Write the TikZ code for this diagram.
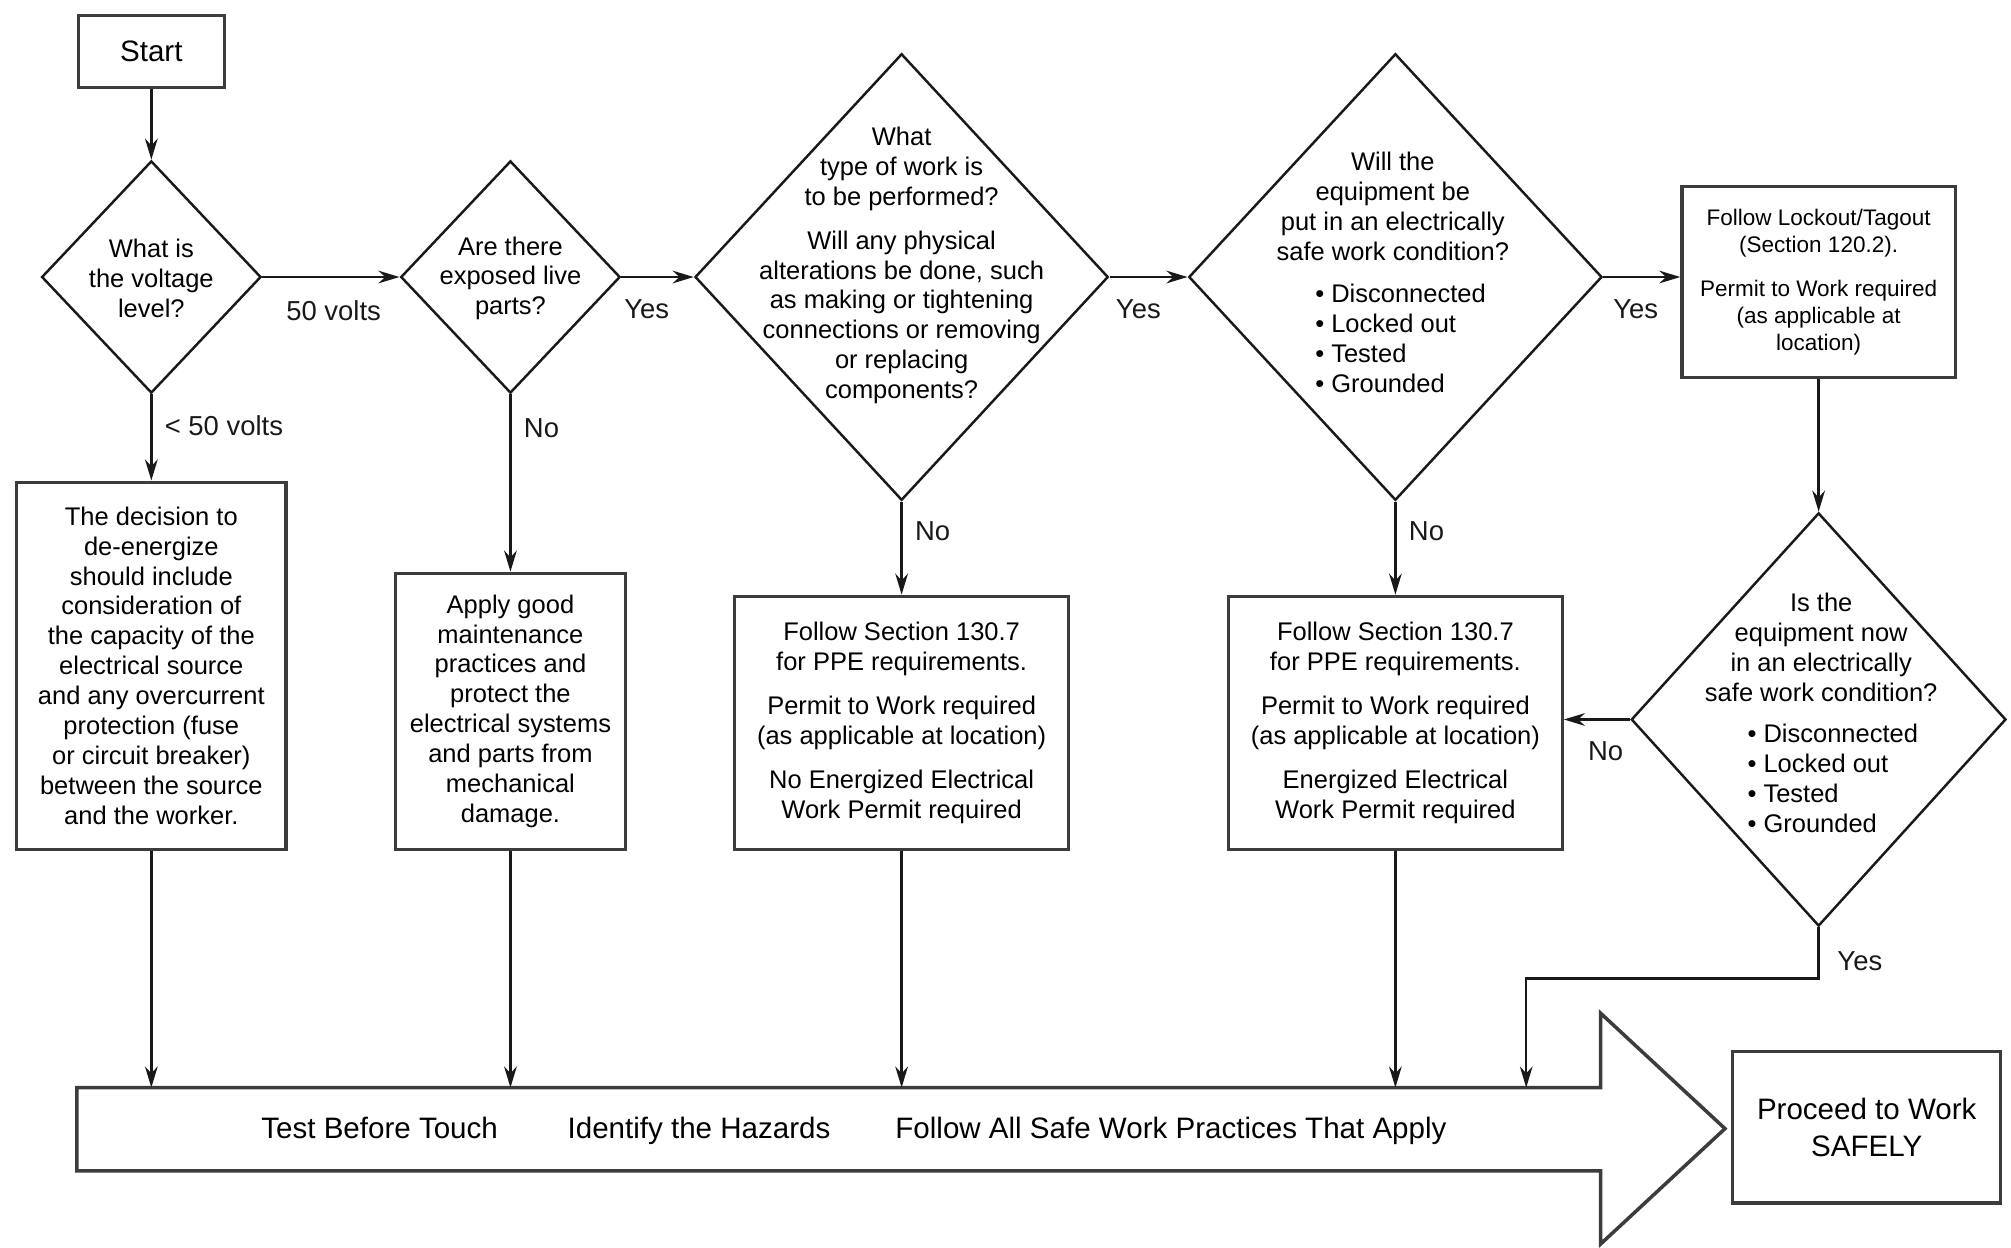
\documentclass[tikz,border=0pt]{standalone}
\usepackage{fontspec}
\setmainfont{Liberation Sans}
\usepackage{tikz}
\usetikzlibrary{shapes.geometric, arrows.meta, positioning, calc}
\definecolor{mydark}{RGB}{25,25,25}
\definecolor{myframe}{RGB}{60,60,60}
\newcommand{\boxfont}{\fontsize{7.25}{8.5}\selectfont}
\newcommand{\smallboxfont}{\fontsize{6.4}{7.6}\selectfont}
\newcommand{\lblfont}{\fontsize{7.8}{9}\selectfont}
\newcommand{\bigfont}{\fontsize{8.4}{10.6}\selectfont}
\tikzset{
  block/.style={rectangle, draw=myframe, fill=white, line width=0.9pt,
    align=center, font=\boxfont, inner sep=0pt},
  decision/.style={diamond, draw=mydark, line width=0.7pt, inner sep=0pt},
  qtext/.style={align=center, font=\boxfont, inner sep=0pt},
  bullets/.style={align=left, font=\boxfont, inner sep=0pt, anchor=west},
  lbl/.style={font=\lblfont, inner sep=1pt},
  arrtext/.style={font=\bigfont, anchor=base, inner sep=0pt},
  arrow/.style={-{Stealth[length=6pt, width=3.6pt]}, line width=0.7pt, color=mydark},
  bigarrow/.style={draw=myframe, fill=white, line width=1pt}
}
\begin{document}
\begin{tikzpicture}[x=0.012825cm, y=-0.012825cm]
  \useasboundingbox (0,0) rectangle (1568,973);
  % Start and first question
  \node[block, font=\bigfont, minimum width=1.462cm, minimum height=0.718cm] (start) at (118,40) {Start};
  \node[decision, minimum width=2.193cm, minimum height=2.321cm] (d1) at (118,216) {};
  \node[qtext] (d1t) at (118,217) {What is\\the voltage\\level?};
  % Exposed live parts
  \node[decision, minimum width=2.193cm, minimum height=2.321cm] (d2) at (398,216) {};
  \node[qtext] (d2t) at (398,217) {Are there\\exposed live\\parts?};
  % Type of work
  \node[decision, minimum width=4.130cm, minimum height=4.463cm] (d3) at (703,216) {};
  \node[qtext] (d3t) at (703,207) {What\\type of work is\\to be performed?\\[4pt]
    Will any physical\\alterations be done, such\\as making or tightening\\connections or removing\\or replacing\\components?};
  % Safe work condition
  \node[decision, minimum width=4.130cm, minimum height=4.463cm] (d4) at (1088,216) {};
  \node[qtext] (d4t) at (1086,161) {Will the\\equipment be\\put in an electrically\\safe work condition?};
  \node[bullets] (d4b) at (1025,264) {• Disconnected\\• Locked out\\• Tested\\• Grounded};
  % Lockout/Tagout
  \node[block, font=\smallboxfont, minimum width=2.732cm, minimum height=1.911cm] (loto) at (1418,220)
    {Follow Lockout/Tagout\\(Section 120.2).\\[5pt]Permit to Work required\\(as applicable at\\location)};
  % Condition check
  \node[decision, minimum width=3.745cm, minimum height=4.130cm] (d5) at (1418,561) {};
  \node[qtext] (d5t) at (1420,505) {Is the\\equipment now\\in an electrically\\safe work condition?};
  \node[bullets] (d5b) at (1362,607) {• Disconnected\\• Locked out\\• Tested\\• Grounded};
  % Result boxes
  \node[block, minimum width=2.693cm, minimum height=3.668cm] (b1) at (118,519)
    {The decision to\\de-energize\\should include\\consideration of\\the capacity of the\\electrical source\\and any overcurrent\\protection (fuse\\or circuit breaker)\\between the source\\and the worker.};
  \node[block, minimum width=2.296cm, minimum height=2.757cm] (b2) at (398,554.5)
    {Apply good\\maintenance\\practices and\\protect the\\electrical systems\\and parts from\\mechanical\\damage.};
  \node[block, minimum width=3.335cm, minimum height=2.527cm] (b3) at (703,563.5)
    {Follow Section 130.7\\for PPE requirements.\\[4pt]Permit to Work required\\(as applicable at location)\\[4pt]No Energized Electrical\\Work Permit required};
  \node[block, minimum width=3.335cm, minimum height=2.527cm] (b4) at (1088,563.5)
    {Follow Section 130.7\\for PPE requirements.\\[4pt]Permit to Work required\\(as applicable at location)\\[4pt]Energized Electrical\\Work Permit required};
  % Big arrow
  \draw[bigarrow] (60,848) coordinate (bodytop) -- (1248,848) -- (1248,790) -- (1345,880) coordinate (tip)
    -- (1248,970) -- (1248,913) -- (60,913) -- cycle;
  \node[arrtext] (t1) at (296,888) {Test Before Touch};
  \node[arrtext] (t2) at (545,888) {Identify the Hazards};
  \node[arrtext] (t3) at (913,888) {Follow All Safe Work Practices That Apply};
  \node[block, font=\bigfont, minimum width=2.680cm, minimum height=1.513cm] (proceed) at (1455.5,879) {Proceed to Work\\SAFELY};
  % Connectors
  \draw[arrow] (start) -- (d1);
  \draw[arrow] (d1) -- node[lbl, below=5.5pt, pos=0.52] {50 volts} (d2);
  \draw[arrow] (d2) -- node[lbl, below=5pt, pos=0.35] {Yes} (d3);
  \draw[arrow] (d3) -- node[lbl, below=5pt, pos=0.37] {Yes} (d4);
  \draw[arrow] (d4.east) -- node[lbl, below=5pt, pos=0.42] {Yes} (d4.east -| loto.west);
  \draw[arrow] (loto) -- (d5);
  \draw[arrow] (d1) -- node[lbl, right=2.5pt, pos=0.36] {< 50 volts} (b1);
  \draw[arrow] (d2) -- node[lbl, right=2.5pt, pos=0.19] {No} (b2);
  \draw[arrow] (d3) -- node[lbl, right=2.5pt, pos=0.32] {No} (b3);
  \draw[arrow] (d4) -- node[lbl, right=2.5pt, pos=0.32] {No} (b4);
  \draw[arrow] (d5.west) -- node[lbl, below=5pt, pos=0.37] {No} (b4.east |- d5.west);
  \coordinate (yesbend) at (1190,763);
  \draw[arrow] (d5.south) |- node[lbl, right=4pt, pos=0.33] {Yes} (yesbend) -- (yesbend |- bodytop);
  \draw[arrow] (b1.south) -- (b1.south |- bodytop);
  \draw[arrow] (b2.south) -- (b2.south |- bodytop);
  \draw[arrow] (b3.south) -- (b3.south |- bodytop);
  \draw[arrow] (b4.south) -- (b4.south |- bodytop);
\end{tikzpicture}
\end{document}
